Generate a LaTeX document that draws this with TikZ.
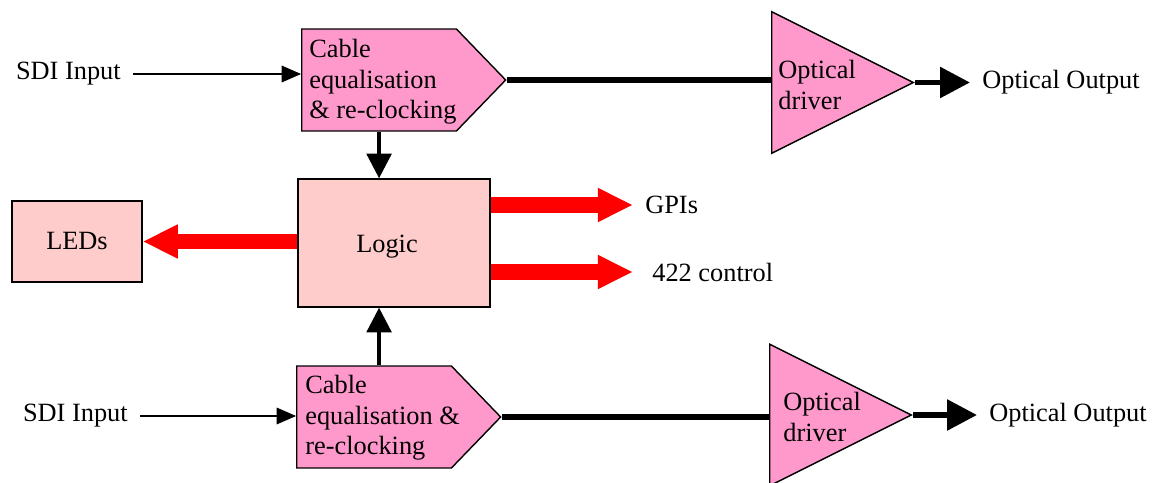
\documentclass[tikz,border=0pt]{standalone}
\usepackage{fontspec}
\setmainfont{Liberation Serif}
\usetikzlibrary{arrows.meta,shapes.geometric,shapes.symbols}
\definecolor{eqpink}{RGB}{255,153,204}
\definecolor{logicpink}{RGB}{255,204,204}
\tikzset{
  eqblk/.style={signal, signal to=east, signal pointer angle=92, draw, line width=0.8pt,
    fill=eqpink, minimum width=4.08cm, minimum height=2.04cm, inner sep=0pt},
  drvblk/.style={isosceles triangle, isosceles triangle stretches, draw, line width=0.8pt,
    fill=eqpink, minimum width=2.83cm, minimum height=2.83cm, inner sep=0pt},
  ctlblk/.style={rectangle, draw, line width=0.8pt, fill=logicpink},
  lbl/.style={align=left, inner sep=0pt},
  txt/.style={inner sep=0pt, outer sep=7pt},
  sig/.style={-{Triangle[length=11pt,width=9.5pt]}, line width=0.6pt},
  bus/.style={line width=3.3pt},
  busarr/.style={bus, -{Triangle[length=17pt,width=17pt]}},
  ctlarr/.style={line width=9pt, red, -{Triangle[length=20pt,width=18pt]}}
}

\begin{document}
\begin{tikzpicture}[x=0.02cm, y=-0.02cm, every node/.style={font=\fontsize{15}{17.3}\selectfont}]
  \useasboundingbox (0,0) rectangle (1161,483);
  % upper channel
  \node[eqblk, anchor=west] (eqA) at (301,80) {};
  \node[lbl, anchor=north west] (eqAtxt) at (309,39) {Cable\\equalisation\\\& re-clocking};
  \node[drvblk, anchor=west] (drvA) at (771,82.5) {};
  \node[lbl, anchor=north west] (drvAtxt) at (778,60) {Optical\\driver};
  \node[txt, anchor=east] (sdiA) at (133,74) {SDI Input};
  \node[txt, anchor=west] (outA) at (970,82.5) {Optical Output};
  % lower channel
  \node[eqblk, anchor=west] (eqB) at (296,417) {};
  \node[lbl, anchor=north west] (eqBtxt) at (305,375) {Cable\\equalisation \&\\re-clocking};
  \node[drvblk, anchor=west] (drvB) at (769,415) {};
  \node[lbl, anchor=north west] (drvBtxt) at (783,392) {Optical\\driver};
  \node[txt, anchor=east] (sdiB) at (140,416) {SDI Input};
  \node[txt, anchor=west] (outB) at (977,415) {Optical Output};
  % control
  \node[ctlblk, minimum width=3.84cm, minimum height=2.56cm] (logic) at (394,243) {};
  \node[anchor=base, inner sep=0pt] (logictxt) at (387,253) {Logic};
  \node[ctlblk, minimum width=2.6cm, minimum height=1.62cm] (leds) at (77,241.5) {LEDs};
  \node[txt, anchor=west] (gpi) at (633,205) {GPIs};
  \node[txt, anchor=west, outer sep=11pt] (rs) at (633,272) {422 control};
  % signal path
  \draw[sig] (sdiA.east) -- (sdiA.east -| eqA.west);
  \draw[bus] (eqA.east) -- (eqA.east -| drvA.west);
  \draw[busarr] (drvA.apex) -- (outA.west);
  \draw[sig] (sdiB.east) -- (sdiB.east -| eqB.west);
  \draw[bus] (eqB.east) -- (eqB.east -| drvB.west);
  \draw[busarr] (drvB.apex) -- (outB.west);
  % into the logic
  \draw[busarr, line width=2pt, -{Triangle[length=14pt,width=14pt]}] (eqA.south) -- (eqA.south |- logic.north);
  \draw[busarr, line width=2pt, -{Triangle[length=14pt,width=14pt]}] (eqB.north -| eqA.south) -- (logic.south -| eqA.south);
  % control outputs
  \draw[ctlarr] (logic.west |- leds.east) -- (leds.east);
  \draw[ctlarr] (logic.east |- gpi.west) -- (gpi.west);
  \draw[ctlarr] (logic.east |- rs.west) -- (rs.west);
\end{tikzpicture}
\end{document}
